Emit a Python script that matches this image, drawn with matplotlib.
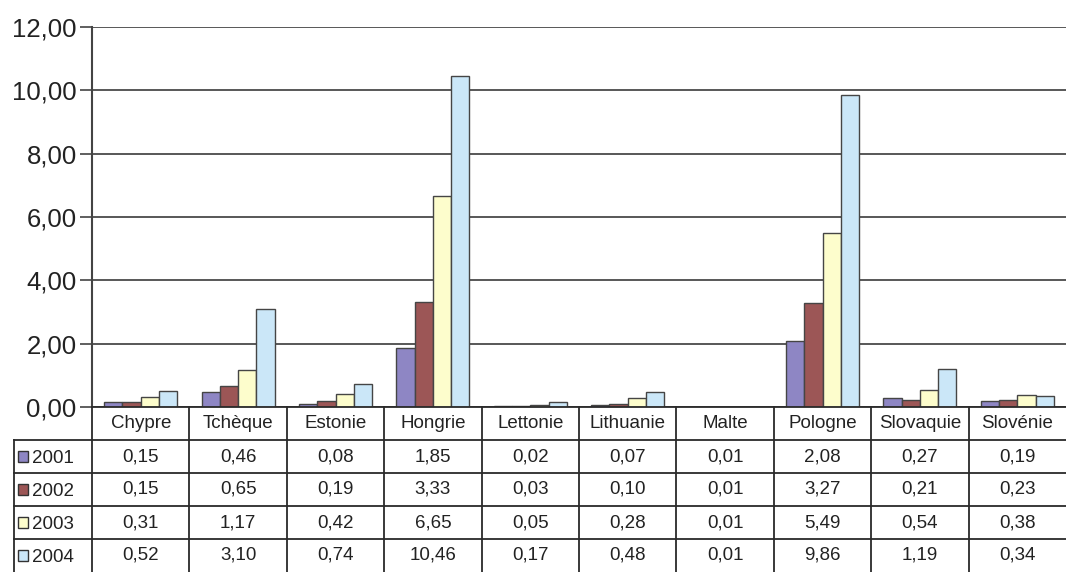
import numpy as np
import matplotlib
matplotlib.use("Agg")
import matplotlib.pyplot as plt
from matplotlib.patches import Rectangle

plt.rcParams['font.family'] = ['Liberation Sans', 'DejaVu Sans']

pays = ["Chypre", "Tchèque", "Estonie", "Hongrie", "Lettonie",
        "Lithuanie", "Malte", "Pologne", "Slovaquie", "Slovénie"]
annees = ["2001", "2002", "2003", "2004"]
v2001 = [0.15, 0.46, 0.08, 1.85, 0.02, 0.07, 0.01, 2.08, 0.27, 0.19]
v2002 = [0.15, 0.65, 0.19, 3.33, 0.03, 0.10, 0.01, 3.27, 0.21, 0.23]
v2003 = [0.31, 1.17, 0.42, 6.65, 0.05, 0.28, 0.01, 5.49, 0.54, 0.38]
v2004 = [0.52, 3.10, 0.74, 10.46, 0.17, 0.48, 0.01, 9.86, 1.19, 0.34]
series = [v2001, v2002, v2003, v2004]
couleurs = ["#8e86c4", "#9c5656", "#fdfdcc", "#cbe7f8"]

W, H = 1066, 572
fig = plt.figure(figsize=(W / 100, H / 100), dpi=100)

# zone du graphique (px -> fractions)
x0, x1, y0, y1 = 92, 1066, 407, 27
ax = fig.add_axes([x0 / W, 1 - y0 / H, (x1 - x0) / W, (y0 - y1) / H])

x = np.arange(len(pays))
w = 0.1875
for i, vals in enumerate(series):
    ax.bar(x + (i - 1.5) * w, vals, w, color=couleurs[i], edgecolor="#454545",
           linewidth=1.0, zorder=3)

ax.set_xlim(-0.5, 9.5)
ax.set_ylim(0, 12)
yt = np.arange(0, 13, 2)
ax.set_yticks(yt)
ax.set_yticklabels([("%.2f" % v).replace(".", ",") for v in yt], fontsize=18.5,
                   color="#222222")
ax.set_xticks([])
ax.tick_params(axis="y", direction="out", length=9, width=1.2, color="#444444",
               pad=2)
for v in yt:
    ax.axhline(v, color="#2a2a2a", linewidth=1.1, zorder=1)
for s in ["top", "right", "bottom"]:
    ax.spines[s].set_visible(False)
ax.spines["left"].set_color("#444444")
ax.spines["left"].set_linewidth(1.5)

# tableau de données sous le graphique
tx0 = 14
tax = fig.add_axes([tx0 / W, 0, (W - tx0) / W, (H - y0) / H])
gauche = -0.5 - (x0 - tx0) * 10.0 / (x1 - x0)
tax.set_xlim(gauche, 9.5)
tax.set_ylim(0, 5)
tax.axis("off")
lc = "#2a2a2a"
lw = 1.3
# lignes horizontales
for r in [1, 2, 3, 4]:
    tax.plot([gauche, 9.5], [r, r], color=lc, linewidth=lw, clip_on=False)
tax.plot([-0.5, 9.5], [5, 5], color=lc, linewidth=lw, clip_on=False)
# lignes verticales
for c in range(10):
    tax.plot([c - 0.5, c - 0.5], [0, 5], color=lc, linewidth=lw, clip_on=False)
tax.plot([gauche + 0.003, gauche + 0.003], [0, 4], color=lc, linewidth=lw,
         clip_on=False)

for c, nom in enumerate(pays):
    tax.text(c, 4.5, nom, ha="center", va="center", fontsize=13.5,
             color="#222222")
for i, vals in enumerate(series):
    yrow = 3.5 - i
    for c, v in enumerate(vals):
        tax.text(c, yrow, ("%.2f" % v).replace(".", ","), ha="center",
                 va="center", fontsize=13.5, color="#222222")
    tax.add_patch(Rectangle((gauche + 0.04, yrow - 0.16), 0.1, 0.32,
                            facecolor=couleurs[i], edgecolor="#333333",
                            linewidth=1.0, clip_on=False))
    tax.text(gauche + 0.18, yrow - 0.05, annees[i], ha="left", va="center",
             fontsize=13.5, color="#222222")

fig.savefig("out.png", dpi=100)
